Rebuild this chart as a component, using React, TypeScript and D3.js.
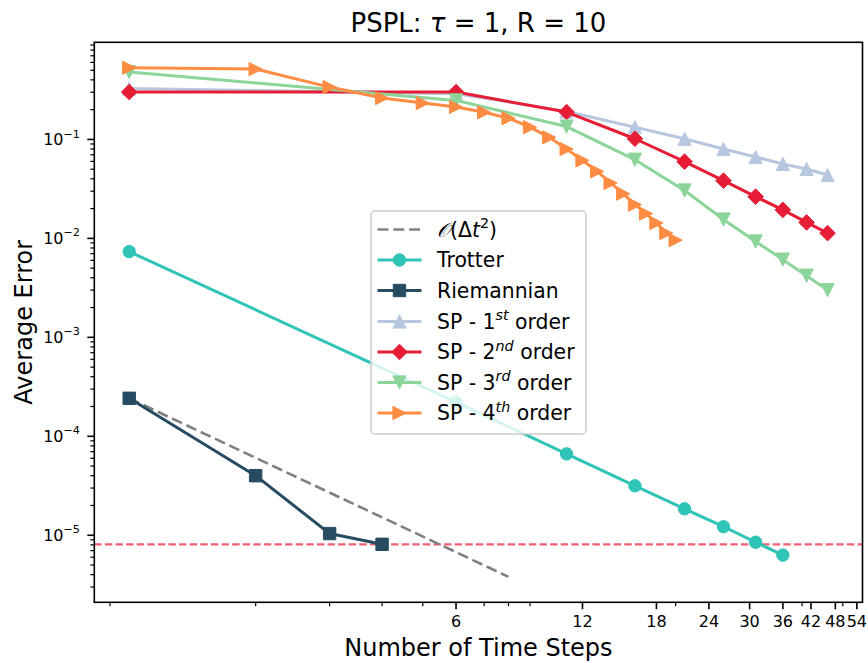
import React from 'react';
import * as d3 from 'd3';

// ---- data ----
const trotterX = [1, 6, 11, 16, 21, 26, 31, 36];
const trotterY = [7.35e-3, 2.22e-4, 6.64e-5, 3.16e-5, 1.85e-5, 1.22e-5, 8.5e-6, 6.3e-6];
const riemX = [1, 2, 3, 4];
const riemY = [2.42e-4, 4.0e-5, 1.04e-5, 8.1e-6];
const spX = [1, 6, 11, 16, 21, 26, 31, 36, 41, 46];
const sp1Y = [0.327, 0.29, 0.192, 0.133, 0.1016, 0.08, 0.0664, 0.0565, 0.0503, 0.0437];
const sp2Y = [0.301, 0.301, 0.189, 0.1016, 0.0596, 0.0383, 0.0264, 0.0194, 0.0145, 0.0113];
const sp3Y = [0.48, 0.248, 0.135, 0.0624, 0.0305, 0.0155, 0.0093, 0.0061, 0.0042, 0.003];
const sp4X = [1, 2, 3, 4, 5, 6, 7, 8, 9, 10, 11, 12, 13, 14, 15, 16, 17, 18, 19, 20];
const sp4Y = [0.53, 0.514, 0.338, 0.262, 0.233, 0.213, 0.188, 0.164, 0.133, 0.105, 0.08, 0.0614, 0.0475, 0.0363, 0.0283, 0.0219, 0.0178, 0.0143, 0.0113, 0.0096];
const refX = [1, 8];
const refY = [2.42e-4, 3.8e-6];
const thresholdY = 8.1e-6;
const xTicks = [6, 12, 18, 24, 30, 36, 42, 48, 54];
const yTickExps = [-1, -2, -3, -4, -5];

type Marker = 'o' | 's' | '^' | 'D' | 'v' | '>';
interface Series { name: string; x: number[]; y: number[]; color: string; marker: Marker; }

const series: Series[] = [
  { name: 'Trotter', x: trotterX, y: trotterY, color: '#2ec4b6', marker: 'o' },
  { name: 'Riemannian', x: riemX, y: riemY, color: '#274b60', marker: 's' },
  { name: 'SP1', x: spX, y: sp1Y, color: '#b7c7df', marker: '^' },
  { name: 'SP2', x: spX, y: sp2Y, color: '#e71d36', marker: 'D' },
  { name: 'SP3', x: spX, y: sp3Y, color: '#8bd49a', marker: 'v' },
  { name: 'SP4', x: sp4X, y: sp4Y, color: '#ff8c42', marker: '>' },
];

const W = 868, H = 663;
const L = 94.3, R = 862.5, T = 42.3, B = 602.3;
const FONT = "'DejaVu Sans', sans-serif";

function logPadDomain(vals: number[]): [number, number] {
  const [a, b] = d3.extent(vals) as [number, number];
  const la = Math.log10(a), lb = Math.log10(b);
  const p = 0.05 * (lb - la);
  return [Math.pow(10, la - p), Math.pow(10, lb + p)];
}

const xAll = [...trotterX, ...riemX, ...spX, ...sp4X, ...refX];
const yAll = [...trotterY, ...riemY, ...sp1Y, ...sp2Y, ...sp3Y, ...sp4Y, ...refY];
const xScale = d3.scaleLog().domain(logPadDomain(xAll)).range([L, R]);
const yScale = d3.scaleLog().domain(logPadDomain(yAll)).range([B, T]);

function markerPath(m: Marker): string {
  switch (m) {
    case 'o': return d3.symbol(d3.symbolCircle, Math.PI * 6.2 * 6.2)() as string;
    case 's': return 'M-6.2,-6.2L6.2,-6.2L6.2,6.2L-6.2,6.2Z';
    case 'D': return 'M0,-7.8L7.8,0L0,7.8L-7.8,0Z';
    case '^': return 'M0,-6.6L6.6,6.6L-6.6,6.6Z';
    case 'v': return 'M0,6.6L6.6,-6.6L-6.6,-6.6Z';
    case '>': return 'M6.6,0L-6.6,-6.6L-6.6,6.6Z';
  }
}

function minorTicks(domain: number[], majors: number[], minExp: number, maxExp: number): number[] {
  const out: number[] = [];
  for (let k = minExp; k <= maxExp; k++) {
    for (let m = 2; m <= 9; m++) {
      const v = m * Math.pow(10, k);
      if (v >= domain[0] && v <= domain[1] && !majors.some((t) => Math.abs(t - v) / v < 1e-9)) out.push(v);
    }
  }
  return out;
}

const LF = 20.4; // legend font
const SUP = 14.3;
const SUPDY = 8.5;

export default function App() {
  const line = d3.line<[number, number]>().x((d) => xScale(d[0])).y((d) => yScale(d[1]));
  const xd = xScale.domain();
  const yd = yScale.domain();
  const xMinor = minorTicks(xd, xTicks, -1, 1);
  const yMajorVals = yTickExps.map((e) => Math.pow(10, e));
  const yMinor = minorTicks(yd, yMajorVals, -7, 0);

  const legendRows = [229.5, 260, 290.5, 321.5, 352, 382.5, 413];
  const hx0 = 377.5, hx1 = 421.5, tx = 437;

  const sup = (base: string, s: string) => (
    <>{base}<tspan fontSize={SUP} fontStyle="italic" dy={-SUPDY}>{s}</tspan><tspan dy={SUPDY}> order</tspan></>
  );

  return (
    <svg width={W} height={H} style={{ position: 'absolute', left: 0, top: 0, background: '#fff' }} fontFamily={FONT}>
      <rect x={0} y={0} width={W} height={H} fill="#fff" />
      <defs>
        <clipPath id="plotclip"><rect x={L} y={T} width={R - L} height={B - T} /></clipPath>
      </defs>
      {/* title */}
      <text x={(L + R) / 2} y={32} fontSize={26} textAnchor="middle" fill="#000">
        PSPL: <tspan fontStyle="italic">τ</tspan> = 1, R = 10
      </text>

      <g clipPath="url(#plotclip)">
        <line x1={L} x2={R} y1={yScale(thresholdY)} y2={yScale(thresholdY)} stroke="#e71d36" strokeOpacity={0.7} strokeWidth={2.2} strokeDasharray="7.4,3.2" />
        <path d={line(refX.map((x, i) => [x, refY[i]]) as any) as string} fill="none" stroke="#808080" strokeWidth={2.6} strokeDasharray="11,4.8" />
        {series.map((s) => (
          <g key={s.name}>
            <path d={line(s.x.map((x, i) => [x, s.y[i]]) as any) as string} fill="none" stroke={s.color} strokeWidth={3} strokeLinejoin="round" />
            {s.x.map((x, i) => (
              <path key={i} d={markerPath(s.marker)} transform={`translate(${xScale(x)},${yScale(s.y[i])})`} fill={s.color} stroke={s.color} strokeWidth={1} />
            ))}
          </g>
        ))}
      </g>

      <rect x={L} y={T} width={R - L} height={B - T} fill="none" stroke="#000" strokeWidth={1.6} />

      {xTicks.map((t) => (
        <g key={'xt' + t}>
          <line x1={xScale(t)} x2={xScale(t)} y1={B} y2={B + 7} stroke="#000" strokeWidth={1.6} />
          <text x={xScale(t)} y={627} fontSize={16} textAnchor="middle">{t}</text>
        </g>
      ))}
      {xMinor.map((t) => (
        <line key={'xm' + t} x1={xScale(t)} x2={xScale(t)} y1={B} y2={B + 4} stroke="#000" strokeWidth={1.2} />
      ))}
      {yTickExps.map((e) => {
        const y = yScale(Math.pow(10, e));
        return (
          <g key={'yt' + e}>
            <line x1={L - 7} x2={L} y1={y} y2={y} stroke="#000" strokeWidth={1.6} />
            <text x={80} y={y + 5.6} fontSize={16} textAnchor="end">
              10<tspan fontSize={11.2} dy={-7.5}>{'\u2212' + Math.abs(e)}</tspan>
            </text>
          </g>
        );
      })}
      {yMinor.map((t) => (
        <line key={'ym' + t} x1={L - 4} x2={L} y1={yScale(t)} y2={yScale(t)} stroke="#000" strokeWidth={1.2} />
      ))}

      <text x={(L + R) / 2} y={656} fontSize={24} textAnchor="middle">Number of Time Steps</text>
      <text transform={`translate(32,${(T + B) / 2}) rotate(-90)`} fontSize={24} textAnchor="middle">Average Error</text>

      <rect x={371} y={211} width={215} height={223} rx={4} fill="#fff" fillOpacity={0.8} stroke="#cccccc" strokeWidth={1.5} />
      <g>
        <line x1={hx0} x2={hx1} y1={legendRows[0]} y2={legendRows[0]} stroke="#808080" strokeWidth={2.6} strokeDasharray="11,4.8" />
        <text x={tx} y={legendRows[0] + 7.3} fontSize={LF}>
          <tspan fontFamily="'DejaVu Serif', serif" fontStyle="italic">𝒪</tspan>(Δ<tspan fontStyle="italic">t</tspan><tspan fontSize={SUP} dy={-SUPDY}>2</tspan><tspan dy={SUPDY}>)</tspan>
        </text>
        {series.map((s, i) => {
          const y = legendRows[i + 1];
          const labels: Record<string, React.ReactNode> = {
            Trotter: 'Trotter',
            Riemannian: 'Riemannian',
            SP1: sup('SP - 1', 'st'),
            SP2: sup('SP - 2', 'nd'),
            SP3: sup('SP - 3', 'rd'),
            SP4: sup('SP - 4', 'th'),
          };
          return (
            <g key={'lg' + s.name}>
              <line x1={hx0} x2={hx1} y1={y} y2={y} stroke={s.color} strokeWidth={3} />
              <path d={markerPath(s.marker)} transform={`translate(${(hx0 + hx1) / 2},${y})`} fill={s.color} stroke={s.color} strokeWidth={1} />
              <text x={tx} y={y + 7.3} fontSize={LF}>{labels[s.name]}</text>
            </g>
          );
        })}
      </g>
    </svg>
  );
}
